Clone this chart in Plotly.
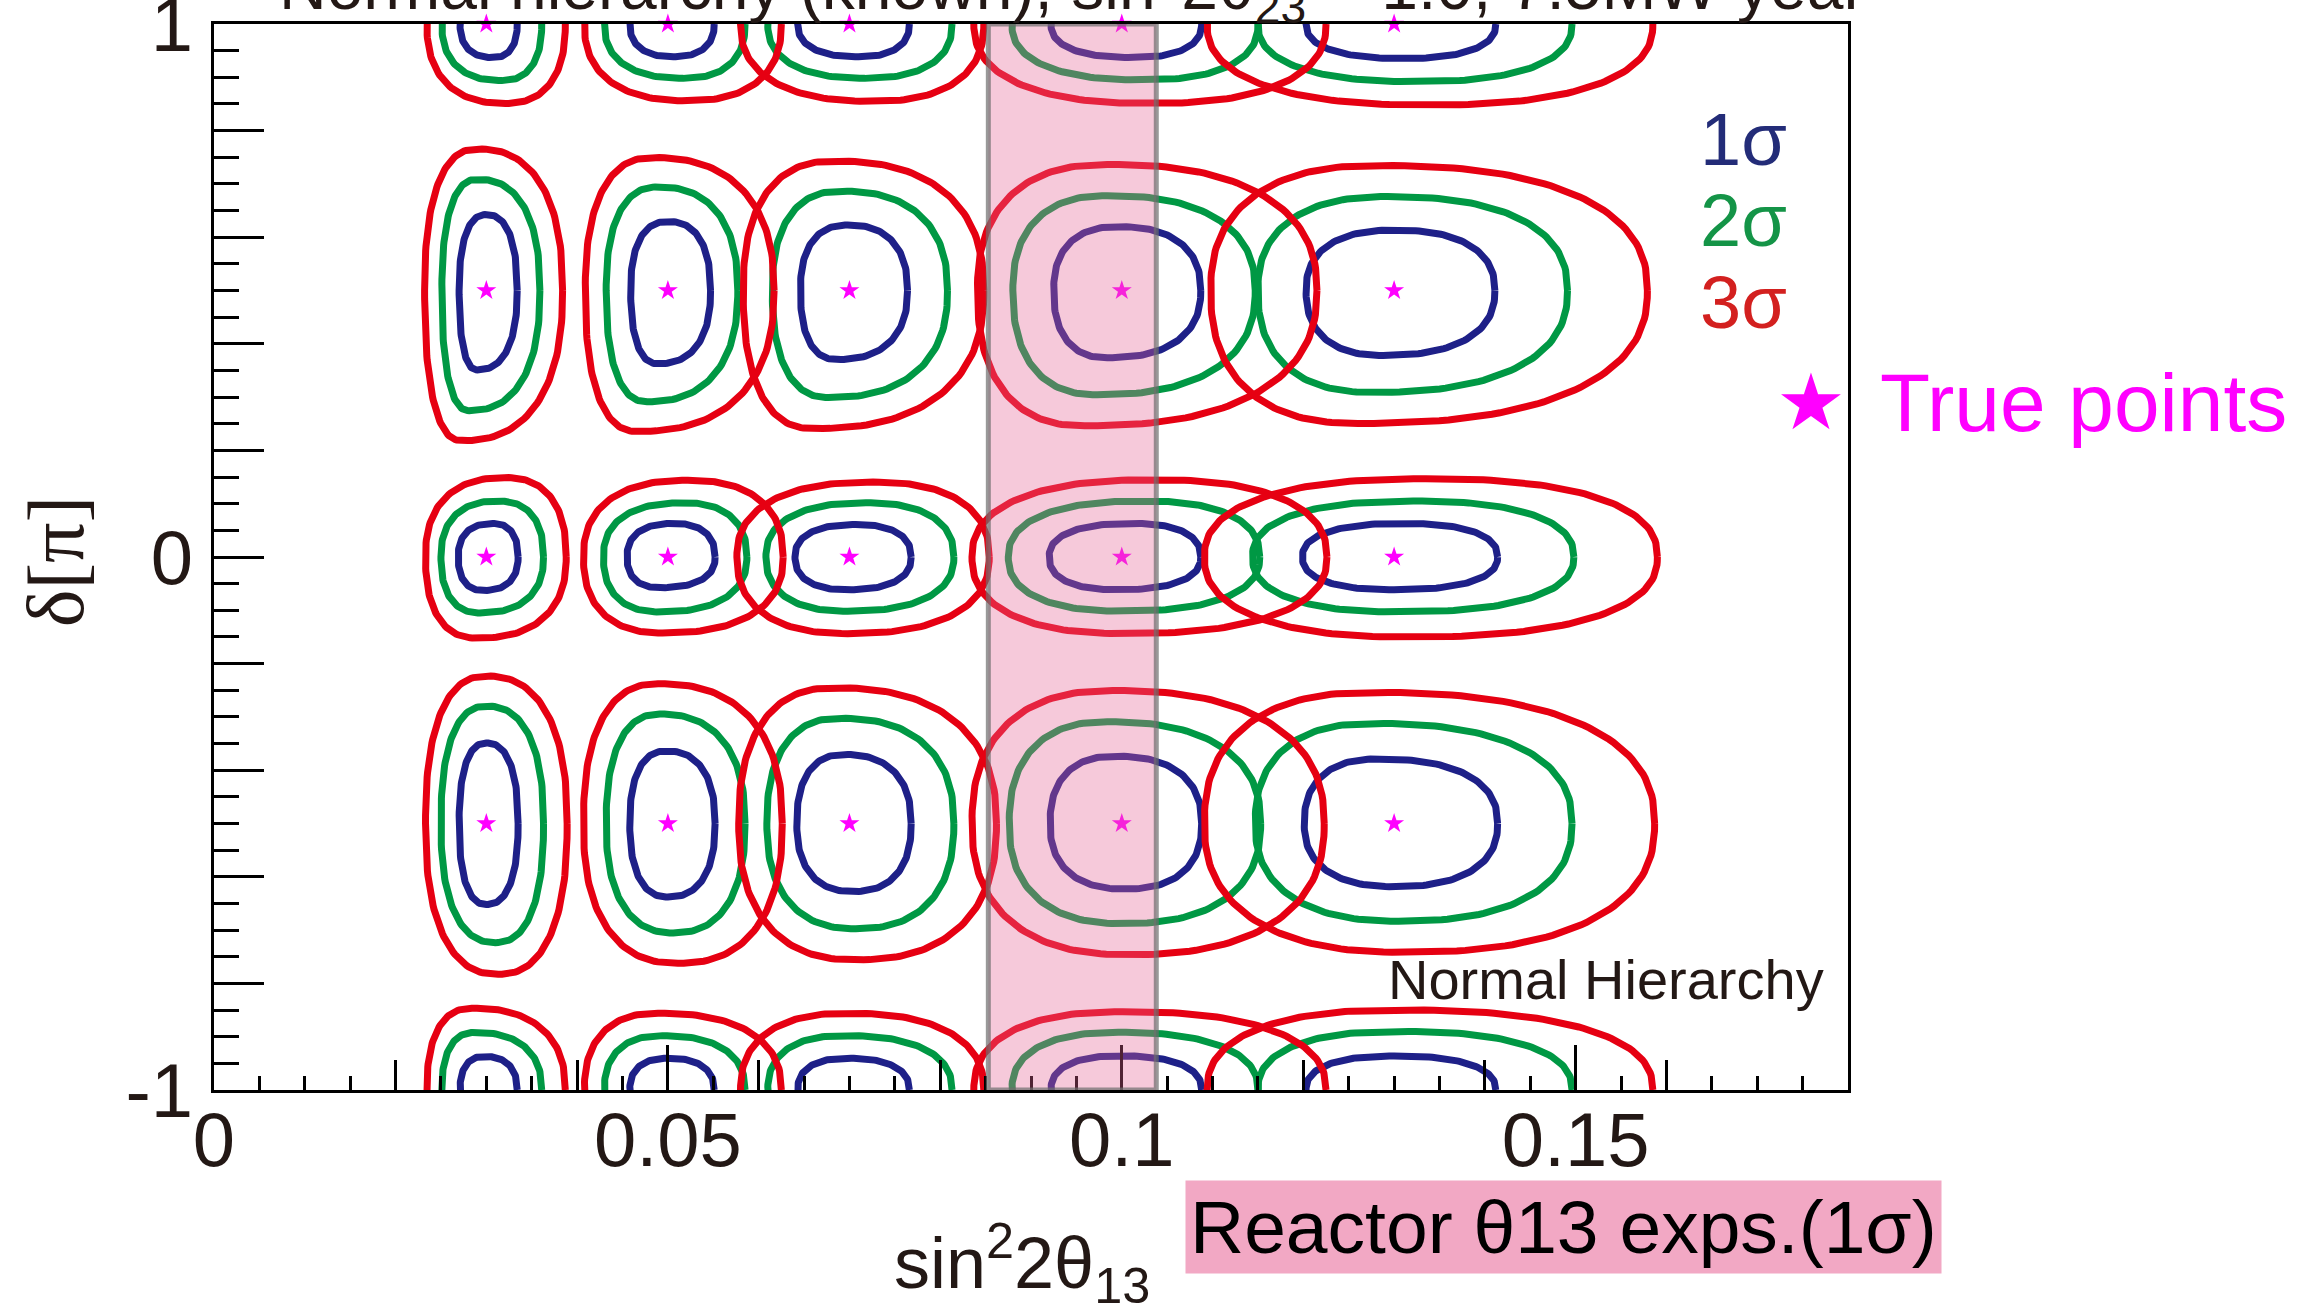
import numpy as np
import plotly.graph_objects as go

# ---------------- data ----------------
X_TRUE = [0.03, 0.05, 0.07, 0.10, 0.13]          # true sin^2 2theta13
D_TRUE = [1.0, 0.5, 0.0, -0.5]                     # true delta [pi] (1 == -1, wraps)

X_TICKS = [0, 0.05, 0.1, 0.15]
X_TICK_TEXT = ["0", "0.05", "0.1", "0.15"]
X_MID_TICKS = [0.02, 0.04, 0.06, 0.08, 0.12, 0.14, 0.16]
Y_MAJOR = [-1, -0.8, -0.6, -0.4, -0.2, 0, 0.2, 0.4, 0.6, 0.8, 1]
Y_LABEL_VALS = [-1, 0, 1]
Y_LABEL_TEXT = ["-1", "0", "1"]

REACTOR_LO = 0.0853
REACTOR_HI = 0.1038

# Contour extents, rows follow D_TRUE, columns follow X_TRUE.
# For the delta = 1 row, YMAX holds the wrapped upper edge as read near delta = -1.
S1_XMIN = [[0.0271, 0.0458, 0.0643, 0.0922, 0.1203],
           [0.0270, 0.0459, 0.0646, 0.0925, 0.1203],
           [0.0269, 0.0455, 0.0640, 0.0920, 0.1199],
           [0.0270, 0.0458, 0.0642, 0.0921, 0.1201]]
S1_XMAX = [[0.0334, 0.0551, 0.0766, 0.1088, 0.1412],
           [0.0334, 0.0547, 0.0764, 0.1087, 0.1411],
           [0.0335, 0.0552, 0.0768, 0.1087, 0.1414],
           [0.0335, 0.0552, 0.0768, 0.1088, 0.1414]]
S1_YMIN = [[0.937, 0.9385, 0.9385, 0.937, 0.9353],
           [0.351, 0.3627, 0.3705, 0.3737, 0.3782],
           [-0.0628, -0.0576, -0.0615, -0.0615, -0.0615],
           [-0.652, -0.638, -0.6276, -0.623, -0.6185]]
S1_YMAX = [[-0.937, -0.9404, -0.9404, -0.9359, -0.936],
           [0.6425, 0.6295, 0.623, 0.6198, 0.6133],
           [0.063, 0.063, 0.061, 0.063, 0.063],
           [-0.349, -0.364, -0.3705, -0.3737, -0.3789]]
S1_XBOT = [[0.0307, 0.0506, 0.0710, 0.1012, 0.1310],
           [0.0290, 0.0489, 0.0686, 0.0984, 0.1288],
           [0.0297, 0.0491, 0.0698, 0.0996, 0.1300],
           [0.0300, 0.0500, 0.0704, 0.1004, 0.1300]]
S1_XTOP = [[0.0298, 0.0500, 0.0698, 0.0998, 0.1300],
           [0.0300, 0.0500, 0.0698, 0.0996, 0.1300],
           [0.0307, 0.0506, 0.0707, 0.1012, 0.1310],
           [0.0300, 0.0498, 0.0694, 0.0993, 0.1282]]

S2_XMIN = [[0.0251, 0.0430, 0.0610, 0.0879, 0.1150],
           [0.0251, 0.0432, 0.0615, 0.0880, 0.1150],
           [0.0250, 0.0429, 0.0608, 0.0875, 0.1144],
           [0.0250, 0.0432, 0.0609, 0.0876, 0.1147]]
S2_XMAX = [[0.0361, 0.0585, 0.0813, 0.1150, 0.1496],
           [0.0359, 0.0577, 0.0808, 0.1147, 0.1491],
           [0.0363, 0.0587, 0.0815, 0.1152, 0.1498],
           [0.0363, 0.0585, 0.0815, 0.1153, 0.1496]]
S2_YMIN = [[0.8938, 0.898, 0.898, 0.895, 0.8918],
           [0.2746, 0.2914, 0.2992, 0.3044, 0.309],
           [-0.1049, -0.103, -0.1017, -0.1017, -0.103],
           [-0.7235, -0.7053, -0.6975, -0.6878, -0.6833]]
S2_YMAX = [[-0.892, -0.898, -0.898, -0.8918, -0.890],
           [0.7086, 0.6943, 0.6865, 0.678, 0.6762],
           [0.105, 0.1017, 0.1017, 0.105, 0.105],
           [-0.2798, -0.2947, -0.3025, -0.309, -0.3122]]
S2_XBOT = [[0.0317, 0.0517, 0.0717, 0.1024, 0.1324],
           [0.0281, 0.0477, 0.0677, 0.0973, 0.1276],
           [0.0293, 0.0491, 0.0698, 0.1001, 0.1305],
           [0.0310, 0.0506, 0.0707, 0.1001, 0.1305]]
S2_XTOP = [[0.0287, 0.0494, 0.0694, 0.0996, 0.1305],
           [0.0290, 0.0489, 0.0691, 0.0984, 0.1293],
           [0.0313, 0.0517, 0.0718, 0.1024, 0.1321],
           [0.0300, 0.0491, 0.0689, 0.0984, 0.1276]]

S3_XMIN = [[0.02345, 0.0408, 0.0580, 0.0837, 0.1094],
           [0.0232, 0.0409, 0.0583, 0.0841, 0.1098],
           [0.0233, 0.0407, 0.0576, 0.0835, 0.1091],
           [0.0233, 0.0407, 0.0578, 0.0835, 0.1091]]
S3_XMAX = [[0.0387, 0.0625, 0.0848, 0.1225, 0.1585],
           [0.0384, 0.0617, 0.0848, 0.1215, 0.1579],
           [0.0388, 0.0627, 0.0854, 0.1226, 0.1590],
           [0.0389, 0.0626, 0.0862, 0.1223, 0.1587]]
S3_YMIN = [[0.851, 0.856, 0.855, 0.851, 0.8478],
           [0.2183, 0.2357, 0.2409, 0.2461, 0.2506],
           [-0.1522, -0.1425, -0.1438, -0.1438, -0.150],
           [-0.783, -0.7623, -0.7558, -0.7461, -0.7416]]
S3_YMAX = [[-0.8465, -0.856, -0.856, -0.853, -0.8498],
           [0.7656, 0.7494, 0.7429, 0.7364, 0.7345],
           [0.149, 0.144, 0.1405, 0.145, 0.147],
           [-0.2234, -0.2377, -0.2455, -0.2506, -0.2539]]
S3_XBOT = [[0.0321, 0.0522, 0.0726, 0.1032, 0.1338],
           [0.0273, 0.0466, 0.0660, 0.0959, 0.1260],
           [0.0290, 0.0494, 0.0698, 0.1004, 0.1316],
           [0.0313, 0.0511, 0.0707, 0.1007, 0.1310]]
S3_XTOP = [[0.0284, 0.0489, 0.0698, 0.1001, 0.1305],
           [0.0290, 0.0483, 0.0683, 0.0984, 0.1282],
           [0.0321, 0.0522, 0.0726, 0.1035, 0.1335],
           [0.0300, 0.0489, 0.0683, 0.0990, 0.1276]]

LEVEL_NAMES = ["1σ", "2σ", "3σ"]
LEVEL_COLORS = ["#1E2088", "#009844", "#E60012"]
TEXT_COLORS = ["#232C78", "#149447", "#D3201F"]

# ---------------- build contour curves ----------------
def egg(xmin, xmax, ymin, ymax, xb, xt, yc, n=2.4, m=50):
    t = np.linspace(0, 2 * np.pi, 4 * m + 1)
    c, s = np.cos(t), np.sin(t)
    cp = np.sign(c) * np.abs(c) ** (2.0 / n)
    sp = np.sign(s) * np.abs(s) ** (2.0 / n)
    upper = s >= 0
    xc = np.where(upper, xt, xb)
    xr = np.where(c >= 0, xmax - xc, xc - xmin)
    yr = np.where(upper, ymax - yc, yc - ymin)
    return xc + xr * cp, yc + yr * sp


def level_curves(XMIN, XMAX, YMIN, YMAX, XBOT, XTOP):
    xs, ys = [], []
    for r, d0 in enumerate(D_TRUE):
        for c, _x0 in enumerate(X_TRUE):
            ymax = YMAX[r][c] + 2.0 if r == 0 else YMAX[r][c]   # periodic delta
            x, y = egg(XMIN[r][c], XMAX[r][c], YMIN[r][c], ymax,
                       XBOT[r][c], XTOP[r][c], d0)
            shifts = [0.0, -2.0] if r == 0 else [0.0]
            for sh in shifts:
                xs += list(x) + [None]
                ys += list(y + sh) + [None]
    return xs, ys


LEVEL_DATA = [
    (S1_XMIN, S1_XMAX, S1_YMIN, S1_YMAX, S1_XBOT, S1_XTOP),
    (S2_XMIN, S2_XMAX, S2_YMIN, S2_YMAX, S2_XBOT, S2_XTOP),
    (S3_XMIN, S3_XMAX, S3_YMIN, S3_YMAX, S3_XBOT, S3_XTOP),
]

fig = go.Figure()
for name, col, dat in zip(LEVEL_NAMES, LEVEL_COLORS, LEVEL_DATA):
    xs, ys = level_curves(*dat)
    fig.add_trace(go.Scatter(x=xs, y=ys, mode="lines", name=name,
                             line=dict(color=col, width=7),
                             hoverinfo="skip", showlegend=False))

# true points (on the overlay axes that carry the extra ticks / labels)
sx = [x for d in D_TRUE for x in X_TRUE]
sy = [d for d in D_TRUE for x in X_TRUE]
fig.add_trace(go.Scatter(x=sx, y=sy, mode="markers", xaxis="x2", yaxis="y2",
                         marker=dict(symbol="star", size=15, color="#FF00FF",
                                     line=dict(width=0)),
                         cliponaxis=False, showlegend=False, hoverinfo="skip"))

# reactor band
fig.add_shape(type="rect", xref="x", yref="y", x0=REACTOR_LO, x1=REACTOR_HI,
              y0=-1, y1=1, layer="above",
              fillcolor="rgba(230,100,150,0.35)",
              line=dict(color="rgba(110,110,110,0.7)", width=5))

FONT = "Liberation Sans, Arial, Helvetica, sans-serif"
INK = "#231815"

fig.update_layout(
    width=2315, height=1308,
    margin=dict(l=214, r=467, t=24, b=218, autoexpand=False),
    paper_bgcolor="white", plot_bgcolor="white",
    font=dict(family=FONT, size=76, color=INK),
    showlegend=False,
    xaxis=dict(range=[0, 0.18], tickvals=X_TICKS, ticktext=X_TICK_TEXT,
               ticks="inside", ticklen=45, tickwidth=3, tickcolor="black",
               minor=dict(dtick=0.005, tick0=0, ticks="inside", ticklen=14,
                          tickwidth=3, tickcolor="black", showgrid=False),
               showline=True, linewidth=3, linecolor="black", mirror=True,
               showgrid=False, zeroline=False, ticklabelstandoff=-18,
               ticklabeloverflow="allow", automargin=False,
               tickfont=dict(size=76, color=INK, family=FONT)),
    xaxis2=dict(range=[0, 0.18], overlaying="x", anchor="y2", side="bottom",
                tickvals=X_MID_TICKS, ticks="inside", ticklen=30, tickwidth=3,
                tickcolor="black", showticklabels=False, showline=False,
                showgrid=False, zeroline=False, automargin=False),
    yaxis=dict(range=[-1, 1], tickvals=Y_MAJOR, showticklabels=False,
               ticks="inside", ticklen=50, tickwidth=3, tickcolor="black",
               minor=dict(dtick=0.05, tick0=-1, ticks="inside", ticklen=25,
                          tickwidth=3, tickcolor="black", showgrid=False),
               showline=True, linewidth=3, linecolor="black", mirror=True,
               showgrid=False, zeroline=False, automargin=False),
    yaxis2=dict(range=[-1, 1], overlaying="y", anchor="x2", side="left",
                tickvals=Y_LABEL_VALS, ticktext=Y_LABEL_TEXT, ticks="",
                showline=False, showgrid=False, zeroline=False,
                ticklabelstandoff=20, ticklabeloverflow="allow", automargin=False,
                tickfont=dict(size=76, color=INK, family=FONT)),
)

ann = []
# cut-off title
ann.append(dict(text="Normal hierarchy (known), sin<sup>2</sup>2θ<sub>23</sub> = 1.0, 7.5MW year",
                xref="paper", yref="paper", x=0.525, y=1.036, xanchor="center",
                yanchor="middle", showarrow=False,
                font=dict(size=66, color=INK, family=FONT)))
# y title
ann.append(dict(text="δ[π]", xref="paper", yref="paper", x=-0.0967, y=0.496,
                xanchor="center", yanchor="middle", textangle=-90, showarrow=False,
                font=dict(size=80, color=INK, family="Liberation Serif, Times New Roman, serif")))
# x title
ann.append(dict(text="sin<sup>2</sup>2θ<sub>13</sub>", xref="paper", yref="paper",
                x=0.4945, y=-0.162, xanchor="center", yanchor="middle", showarrow=False,
                font=dict(size=72, color=INK, family=FONT)))
# reactor label
ann.append(dict(text="Reactor θ13 exps.(1σ)", xref="paper", yref="paper",
                x=0.826, y=-0.1285, xanchor="center", yanchor="middle", showarrow=False,
                bgcolor="#F2A8C4", borderpad=4,
                font=dict(size=75, color="black", family=FONT)))
# Normal Hierarchy
ann.append(dict(text="Normal Hierarchy", xref="paper", yref="paper",
                x=0.9865, y=0.104, xanchor="right", yanchor="middle", showarrow=False,
                font=dict(size=56, color=INK, family=FONT)))
# sigma legend
for name, col, yy in zip(LEVEL_NAMES, TEXT_COLORS, [0.8912, 0.8152, 0.7383]):
    ann.append(dict(text=name, xref="paper", yref="paper", x=0.9639, y=yy,
                    xanchor="right", yanchor="middle", showarrow=False,
                    font=dict(size=74, color=col, family=FONT)))
# true points
ann.append(dict(text="★", xref="paper", yref="paper", x=0.9774, y=0.6454,
                xanchor="center", yanchor="middle", showarrow=False,
                bgcolor="white", borderpad=0,
                font=dict(size=78, color="#FF00FF", family="DejaVu Sans")))
ann.append(dict(text="True points", xref="paper", yref="paper", x=1.0184, y=0.6454,
                xanchor="left", yanchor="middle", showarrow=False,
                bgcolor="white",
                font=dict(size=82, color="#FF00FF", family=FONT)))
fig.update_layout(annotations=ann)

fig.write_html("out.html")
